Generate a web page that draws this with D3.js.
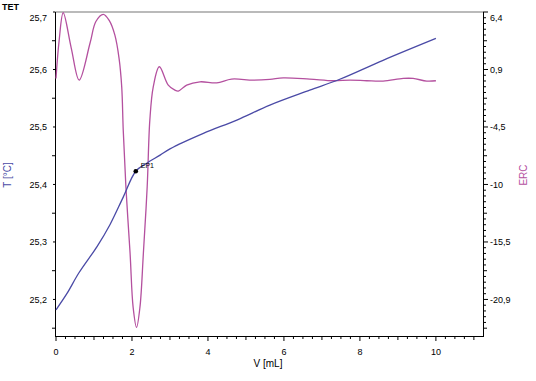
<!DOCTYPE html>
<html><head><meta charset="utf-8">
<script src="https://cdn.jsdelivr.net/npm/d3@7"></script>
<style>
html,body{margin:0;padding:0;background:#fff;}
svg{display:block;}
text{font-family:"Liberation Sans",Arial,sans-serif;}
</style></head>
<body>
<script>
// ---- data ----
const title = "TET";
const xLabel = "V [mL]";
const yLeftLabel = "T [°C]";
const yRightLabel = "ERC";
const xTicks = [0, 2, 4, 6, 8, 10];
const leftTicks = [25.2, 25.3, 25.4, 25.5, 25.6, 25.7];
const leftTickLabels = ["25,2", "25,3", "25,4", "25,5", "25,6", "25,7"];
const rightTicks = [6.4, 0.94, -4.52, -9.98, -15.44, -20.9];
const rightTickLabels = ["6,4", "0,9", "-4,5", "-10", "-15,5", "-20,9"];

// temperature curve (V, T)
const tempV = [0, 0.29, 0.6, 1.08, 1.42, 1.77, 2.10, 2.39, 2.74, 3.0, 3.88, 4.76, 5.63, 6.68, 7.47, 8.61, 10.0];
const tempT = [25.182, 25.2105, 25.246, 25.292, 25.330, 25.378, 25.423, 25.437, 25.451, 25.462, 25.489, 25.512, 25.538, 25.564, 25.583, 25.616, 25.654];

// ERC curve (V, ERC)
const ercV = [0, 0.08, 0.19, 0.4, 0.61, 0.9, 1.05, 1.245, 1.4, 1.55, 1.66, 1.73, 1.77, 1.84, 1.95, 2.03, 2.12, 2.21, 2.30, 2.40, 2.47, 2.56, 2.72, 2.955, 3.13, 3.22, 3.44, 3.79, 4.23, 4.62, 5.19, 5.63, 5.98, 6.68, 7.30, 7.74, 8.18, 8.61, 9.14, 9.40, 9.76, 10.0];
const ercE = [0.09, 3.6, 6.33, 3.0, -0.07, 3.5, 5.5, 6.18, 5.6, 4.2, 2.0, -0.71, -4.82, -10.22, -16.52, -21.63, -23.56, -21.63, -16.52, -10.22, -3.87, -0.71, 1.2, -0.54, -1.02, -1.11, -0.54, -0.23, -0.33, 0.03, -0.07, 0.0, 0.15, 0.03, -0.13, -0.07, -0.13, -0.16, 0.09, 0.09, -0.16, -0.13];

// endpoint
const epV = [2.10];
const epT = [25.423];
const epLabel = ["EP1"];

// ---- layout ----
const W = 536, H = 381;
const L = 55, R = 483, T0 = 12, B = 336;
const blue = "#4a4aa6", magenta = "#b4509f";

const svg = d3.select("body").append("svg").attr("width", W).attr("height", H);

const x = d3.scaleLinear().domain([0, 11.24]).range([L + 1, R]);
const yL = d3.scaleLinear().domain([25.2 - (B - 299.5) / 574, 25.7]).range([B, T0]);
const yR = d3.scaleLinear().domain([-20.9 - (B - 299.5) / 10.513, 6.4]).range([B, T0]);

// top border
svg.append("line").attr("x1", L).attr("x2", R).attr("y1", T0).attr("y2", T0)
  .attr("stroke", "#777").attr("stroke-width", 1.2);

// bottom axis
const minorX = d3.range(0, 11.25, 0.25);
const gx = svg.append("g").attr("transform", `translate(0,${B})`);
gx.append("line").attr("x1", L).attr("x2", R + 1).attr("y1", 0.5).attr("y2", 0.5).attr("stroke", "#000");
gx.selectAll(".mt").data(minorX).enter().append("line")
  .attr("x1", d => x(d)).attr("x2", d => x(d)).attr("y1", 0).attr("y2", d => (Math.abs(d % 2) < 1e-6 ? 5 : (Math.abs(d % 1) < 1e-6 ? 4 : 3)))
  .attr("stroke", "#000");
gx.selectAll(".xl").data(xTicks).enter().append("text")
  .attr("x", d => x(d)).attr("y", 19).attr("text-anchor", "middle").attr("font-size", 9).text(d => d);
svg.append("text").attr("x", 268).attr("y", 367).attr("text-anchor", "middle").attr("font-size", 10).text(xLabel);

// left axis
const gl = svg.append("g");
gl.append("line").attr("x1", L + 0.5).attr("x2", L + 0.5).attr("y1", T0).attr("y2", B + 1).attr("stroke", "#000");
const halfTicks = d3.range(25.15, 25.7, 0.1);
gl.selectAll(".ht").data(halfTicks).enter().append("line")
  .attr("x1", L - 3).attr("x2", L).attr("y1", d => yL(d)).attr("y2", d => yL(d)).attr("stroke", "#000");
gl.selectAll(".lt").data(leftTicks).enter().append("line")
  .attr("x1", L - 2).attr("x2", L).attr("y1", d => yL(d)).attr("y2", d => yL(d)).attr("stroke", "#000");
gl.selectAll(".ll").data(leftTicks).enter().append("text")
  .attr("x", 47).attr("y", (d, i) => yL(d) + (i === leftTicks.length - 1 ? 6 : 0)).attr("dy", "0.35em")
  .attr("text-anchor", "end").attr("font-size", 9).text((d, i) => leftTickLabels[i]);
svg.append("text").attr("transform", "translate(11,175) rotate(-90)").attr("text-anchor", "middle")
  .attr("font-size", 10).attr("fill", blue).text(yLeftLabel);

// right axis
const gr = svg.append("g");
gr.append("line").attr("x1", R + 0.5).attr("x2", R + 0.5).attr("y1", T0).attr("y2", B + 1).attr("stroke", "#000");
const step = (rightTicks[0] - rightTicks[1]) / 10;
const minorR = d3.range(0, 57).map(i => 6.4 - i * step).filter(v => yR(v) <= B - 4);
gr.selectAll(".rm").data(minorR).enter().append("line")
  .attr("x1", R).attr("x2", (d, i) => R + (i % 10 === 0 ? 5 : (i % 5 === 0 ? 4 : 3)))
  .attr("y1", d => yR(d)).attr("y2", d => yR(d)).attr("stroke", "#000");
gr.selectAll(".rl").data(rightTicks).enter().append("text")
  .attr("x", 490).attr("y", (d, i) => yR(d) + (i === 0 ? 6 : 0)).attr("dy", "0.35em")
  .attr("font-size", 9).text((d, i) => rightTickLabels[i]);
svg.append("text").attr("transform", "translate(527,175) rotate(-90)").attr("text-anchor", "middle")
  .attr("font-size", 10).attr("fill", magenta).text(yRightLabel);

// title
svg.append("text").attr("x", 2).attr("y", 10).attr("font-size", 9).attr("font-weight", "bold").text(title);

// curves
const ercData = ercV.map((v, i) => [v, ercE[i]]);
const tempData = tempV.map((v, i) => [v, tempT[i]]);
svg.append("path").datum(ercData)
  .attr("d", d3.line().x(d => x(d[0])).y(d => yR(d[1])).curve(d3.curveCatmullRom.alpha(0.5)))
  .attr("fill", "none").attr("stroke", magenta).attr("stroke-width", 1.3);
svg.append("path").datum(tempData)
  .attr("d", d3.line().x(d => x(d[0])).y(d => yL(d[1])).curve(d3.curveCatmullRom.alpha(0.5)))
  .attr("fill", "none").attr("stroke", blue).attr("stroke-width", 1.3);

// endpoint
svg.selectAll(".ep").data(epV).enter().append("circle")
  .attr("cx", d => x(d)).attr("cy", (d, i) => yL(epT[i])).attr("r", 2.3).attr("fill", "#000");
svg.selectAll(".epl").data(epV).enter().append("text")
  .attr("x", d => x(d) + 5).attr("y", (d, i) => yL(epT[i]) - 3).attr("font-size", 7).text((d, i) => epLabel[i]);
</script>
</body></html>
